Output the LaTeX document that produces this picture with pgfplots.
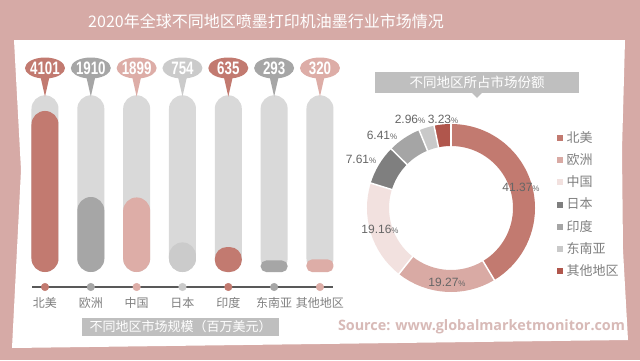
\documentclass[border=0pt]{standalone}
\usepackage{pgfplots}
\pgfplotsset{compat=1.18}
\usepackage{graphicx}
\usepackage{fontspec}
\setmainfont{Liberation Sans}
\newfontfamily\cjk{Noto Sans CJK SC}
\newfontfamily\src{Open Sans}
\usetikzlibrary{shapes.callouts}
\definecolor{bgpink}{HTML}{D6AAA6}
\definecolor{cNA}{HTML}{C27A70}
\definecolor{cEU}{HTML}{A6A6A6}
\definecolor{cCN}{HTML}{DDADA7}
\definecolor{cJP}{HTML}{CBCBCB}
\definecolor{pill}{HTML}{D9D9D9}
\definecolor{dEU}{HTML}{D9AAA4}
\definecolor{dCN}{HTML}{F2E1DF}
\definecolor{dJP}{HTML}{7F7F7F}
\definecolor{dIN}{HTML}{A5A5A5}
\definecolor{dSE}{HTML}{C9C9C9}
\definecolor{dOT}{HTML}{B0564C}
\definecolor{txtgrey}{HTML}{7F7F7F}
\definecolor{lblgrey}{HTML}{666666}
\definecolor{linegrey}{HTML}{595959}
\definecolor{boxgrey}{HTML}{BFBFBF}
\definecolor{srccol}{HTML}{D8BAB7}

\newcommand\region[6]{%
  \addplot[ybar, bar width=27pt, bar shift=0pt, fill=#3, draw=none, rounded corners=#4] coordinates {(#1,#2)};
  \addplot[draw=none, mark=none, nodes near coords={\makebox[0pt]{\raisebox{-6.4pt}[0pt][0pt]{\scalebox{0.74}[1]{\pgfplotspointmeta}}}}, point meta=explicit symbolic,
    every node near coord/.style={ellipse callout, fill=#5, text=white, anchor=center, minimum width=40pt, minimum height=21pt, inner sep=0pt, outer sep=0pt,
      callout relative pointer={(0pt,-18pt)}, callout pointer arc=24, font=\bfseries\fontsize{18}{18}\selectfont}] coordinates {(#1,5195)[#2]};
  \addplot[only marks, mark=*, mark size=3.8pt, color=#6] coordinates {(#1,-382)};
}

\def\astart{90}
\newcommand\seg[2]{%
  \pgfmathsetmacro\aend{\astart-#1/9912*360}%
  \edef\temp{\noexpand\draw[#2, line width=22pt] (axis cs:0,0) ++(\astart:73pt) arc[start angle=\astart, end angle=\aend, radius=73pt];
    \noexpand\draw[white, line width=1.5pt] (axis cs:0,0) ++(\astart:60pt) -- ++(\astart:26pt);}%
  \temp
  \xdef\astart{\aend}%
}

\begin{document}
\begin{tikzpicture}
\fill[bgpink] (0,0) rectangle (640pt,360pt);
\fill[white] (14pt,320pt) -- (625pt,320pt) -- (622pt,210pt) -- (623pt,110pt) -- (628pt,20pt) -- (12pt,12pt) -- (21pt,190pt) -- cycle;

\node[text=white, font=\cjk\fontsize{16}{16}\selectfont] at (266pt,339pt) {2020年全球不同地区喷墨打印机油墨行业市场情况};

\begin{axis}[at={(22.08pt,88pt)}, anchor=south west, scale only axis,
  width=320.8pt, height=176.7pt, xmin=-0.5, xmax=6.5, ymin=0, ymax=4500,
  clip=false, axis line style={draw=none}, ytick=\empty,
  xtick={0,...,6}, xticklabels={北美,欧洲,中国,日本,印度,东南亚,其他地区},
  major tick length=0pt,
  xticklabel style={font=\cjk\fontsize{12}{12}\selectfont, text=txtgrey, anchor=center, yshift=-31pt}]
\addplot[ybar, bar width=27pt, bar shift=0pt, fill=pill, draw=none, rounded corners=13.5pt]
  coordinates {(0,4500)(1,4500)(2,4500)(3,4500)(4,4500)(5,4500)(6,4500)};
\addplot[line width=1.2pt, color=linegrey] coordinates {(-0.28,-382)(6.28,-382)};
\region{0}{4101}{cNA}{13.5pt}{cNA}{cNA}
\region{1}{1910}{cEU}{13.5pt}{cEU}{cEU}
\region{2}{1899}{cCN}{13.5pt}{cCN}{cCN}
\region{3}{754}{cJP}{13.5pt}{cJP}{cJP}
\region{4}{635}{cNA}{12pt}{cNA}{cNA}
\region{5}{293}{cEU}{5.5pt}{cEU}{cEU}
\region{6}{320}{cCN}{5.5pt}{cCN}{cCN}
\end{axis}

\node[fill=boxgrey, minimum width=197pt, minimum height=18pt, inner sep=0pt, text=white, font=\cjk\fontsize{13}{13}\selectfont] at (180.5pt,33pt) {不同地区市场规模（百万美元）};

\begin{axis}[at={(451pt,152pt)}, anchor=center, scale only axis, width=168pt, height=168pt,
  xmin=-1, xmax=1, ymin=-1, ymax=1, hide axis, clip=false,
  legend style={at={(axis description cs:1.128,0.988)}, anchor=north west, draw=none, fill=none, inner sep=0pt, row sep=0pt,
    nodes={inner sep=1pt, minimum height=22.3pt, text=txtgrey, font=\cjk\fontsize{13}{13}\selectfont},
    /tikz/every odd column/.append style={column sep=3.5pt}},
  legend cell align=left,
  legend image code/.code={\fill[#1] (0pt,-2.5pt) rectangle (5pt,2.5pt);}]
\seg{4101}{cNA}
\seg{1910}{dEU}
\seg{1899}{dCN}
\seg{754}{dJP}
\seg{635}{dIN}
\seg{293}{dSE}
\seg{320}{dOT}
\draw[white, line width=1.5pt] (axis cs:0,0) ++(90:60pt) -- ++(90:26pt);
\addlegendimage{cNA}\addlegendentry{北美}
\addlegendimage{dEU}\addlegendentry{欧洲}
\addlegendimage{dCN}\addlegendentry{中国}
\addlegendimage{dJP}\addlegendentry{日本}
\addlegendimage{dIN}\addlegendentry{印度}
\addlegendimage{dSE}\addlegendentry{东南亚}
\addlegendimage{dOT}\addlegendentry{其他地区}
\end{axis}

\node[fill=boxgrey, minimum width=204pt, minimum height=21pt, inner sep=0pt, text=white, font=\cjk\fontsize{13.5}{13.5}\selectfont] at (477pt,277.5pt) {不同地区所占市场份额};
\fill[boxgrey] (472pt,267.2pt) -- (482pt,267.2pt) -- (477pt,262pt) -- cycle;

\begin{scope}[every node/.style={text=lblgrey, font=\fontsize{12}{12}\selectfont, inner sep=0pt}]
\node at (521pt,173pt) {41.37{\fontsize{8}{8}\selectfont\%}};
\node at (447pt,78pt) {19.27{\fontsize{8}{8}\selectfont\%}};
\node at (380pt,131pt) {19.16{\fontsize{8}{8}\selectfont\%}};
\node at (361pt,201pt) {7.61{\fontsize{8}{8}\selectfont\%}};
\node at (382pt,225pt) {6.41{\fontsize{8}{8}\selectfont\%}};
\node at (410pt,241pt) {2.96{\fontsize{8}{8}\selectfont\%}};
\node at (443pt,241pt) {3.23{\fontsize{8}{8}\selectfont\%}};
\end{scope}

\node[anchor=base, text=srccol, font=\src\bfseries\fontsize{14}{14}\selectfont, inner sep=0pt] at (481.5pt,30pt) {\resizebox{287pt}{!}{Source: www.globalmarketmonitor.com}};
\end{tikzpicture}
\end{document}
